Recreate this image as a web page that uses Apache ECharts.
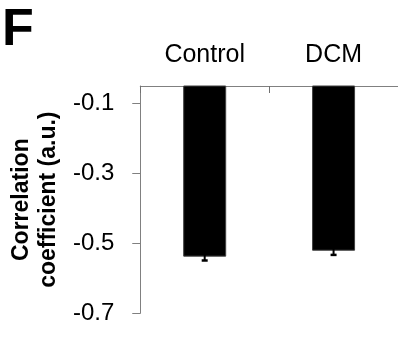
<!DOCTYPE html>
<html>
<head>
<meta charset="utf-8">
<script src="https://cdn.jsdelivr.net/npm/echarts@6/dist/echarts.min.js"></script>
<style>
html,body{margin:0;padding:0;background:#fff;}
#c{width:398px;height:338px;}
</style>
</head>
<body>
<div id="c"></div>
<script>
const categories = ['Control', 'DCM'];
const values = [-0.538, -0.521];
const errors = [0.011, 0.012];
const yTickValues = [-0.1, -0.3, -0.5, -0.7];
const yMin = -0.7;
const yMax = -0.05;

const FONT = '"Liberation Sans", Arial, sans-serif';
const chart = echarts.init(document.getElementById('c'), null, {renderer: 'canvas'});
chart.setOption({
  animation: false,
  backgroundColor: '#fff',
  graphic: [{
    type: 'text', left: 2, top: 5,
    style: {text: 'F', font: 'bold 52px ' + FONT, fill: '#000'}
  }],
  grid: {left: 138, width: 261, top: 86, bottom: 24.7},
  xAxis: {
    type: 'category',
    data: categories,
    position: 'top',
    axisLine: {lineStyle: {color: '#808080', width: 1}},
    axisTick: {show: true, inside: true, length: 7, lineStyle: {color: '#707070', width: 1}},
    axisLabel: {color: '#000', fontSize: 25, fontFamily: FONT, margin: 18}
  },
  yAxis: {
    type: 'value',
    min: yMin, max: yMax,
    splitLine: {show: false},
    axisLine: {show: true, lineStyle: {color: '#808080', width: 1}},
    axisTick: {show: true, length: 8, customValues: yTickValues, lineStyle: {color: '#808080'}},
    axisLabel: {customValues: yTickValues, color: '#000', fontSize: 24, fontFamily: FONT, margin: 26,
      formatter: v => v.toFixed(1)},
    name: 'Correlation\ncoefficient (a.u.)',
    nameLocation: 'middle',
    nameRotate: 90,
    nameGap: 74,
    nameTextStyle: {color: '#000', fontSize: 23, fontWeight: 'bold', fontFamily: FONT, lineHeight: 27}
  },
  series: [{
    type: 'bar',
    data: values,
    barWidth: 43,
    clip: true,
    itemStyle: {color: '#000', borderColor: '#404040', borderWidth: 1}
  }, {
    type: 'custom',
    z: 5,
    clip: false,
    data: values.map((v, i) => [i, v, errors[i]]),
    renderItem: function (params, api) {
      const i = api.value(0), v = api.value(1), e = api.value(2);
      const top = api.coord([i, v + e]);
      const bot = api.coord([i, v - e]);
      const hw = 3;
      return {
        type: 'group',
        children: [
          {type: 'line', shape: {x1: top[0], y1: top[1], x2: bot[0], y2: bot[1]}, style: {stroke: '#000', lineWidth: 2}},
          {type: 'line', shape: {x1: bot[0] - hw, y1: bot[1], x2: bot[0] + hw, y2: bot[1]}, style: {stroke: '#000', lineWidth: 2.5}}
        ]
      };
    }
  }]
});
</script>
</body>
</html>
